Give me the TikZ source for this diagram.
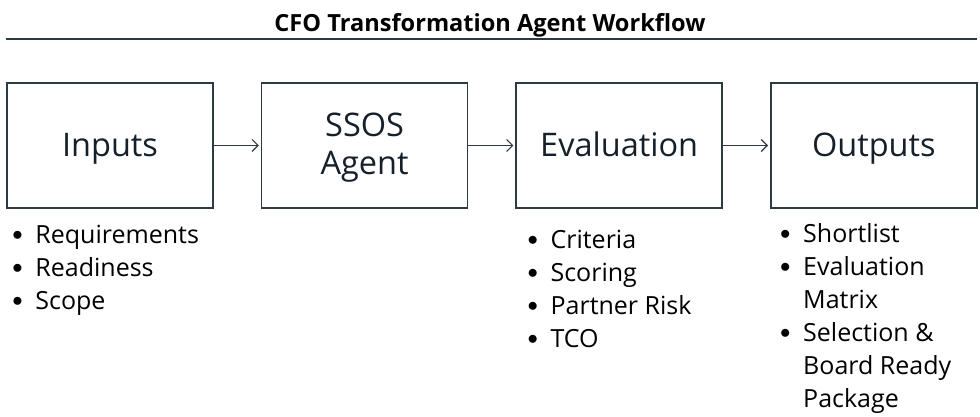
\documentclass[tikz,border=0pt]{standalone}
\usepackage{fontspec}
\setmainfont{Open Sans}
\usetikzlibrary{positioning,arrows.meta}
\definecolor{edgegray}{HTML}{2E3A42}
\definecolor{inkdark}{HTML}{16202A}
\newcommand{\bitem}[1]{\makebox[23pt][l]{\raisebox{2.5pt}{\fontsize{21}{33}\selectfont$\bullet$}}#1}
\newcommand{\bcont}[1]{\hspace*{23pt}#1}

\begin{document}
\begin{tikzpicture}[x=1pt,y=1pt,
    stage/.style={draw=edgegray,line width=1.6pt,minimum width=206pt,minimum height=125pt,
      inner sep=0pt,align=center,text=inkdark,font=\fontsize{32.5}{38}\selectfont,
      text height=23pt,text depth=0pt},
    flow/.style={draw=edgegray,line width=1.1pt,-{Straight Barb[length=6pt,width=12pt]},shorten >=2pt},
    bullets/.style={anchor=north west,inner sep=0pt,align=left,text=black,font=\fontsize{25}{33}\selectfont}]
    \useasboundingbox (0,0) rectangle (980,417);
    % title and rule
    \node[font=\bfseries\fontsize{23.6}{28}\selectfont,anchor=base] (title) at (490,385) {CFO Transformation Agent Workflow};
    \coordinate (ruleL) at (6,378);
    \coordinate (ruleR) at (977,378);
    \draw[edgegray,line width=1.8pt] (ruleL) -- (ruleR);
    % stages
    \node[stage] (inputs) at (110,271.5) {Inputs};
    \node[stage,right=47pt of inputs,text height=59pt] (agent) {SSOS\\Agent};
    \node[stage,right=47pt of agent] (evaluation) {Evaluation};
    \node[stage,right=47pt of evaluation] (outputs) {Outputs};
    \draw[flow] (inputs) -- (agent);
    \draw[flow] (agent) -- (evaluation);
    \draw[flow] (evaluation) -- (outputs);
    % bullet lists
    \node[bullets] (inlist) at ([shift={(6pt,-11pt)}]inputs.south west)
      {\strut\bitem{Requirements}\\\bitem{Readiness}\\\bitem{Scope}};
    \node[bullets] (evallist) at ([shift={(12pt,-16pt)}]evaluation.south west)
      {\strut\bitem{Criteria}\\\bitem{Scoring}\\\bitem{Partner Risk}\\\bitem{TCO}};
    \node[bullets] (outlist) at ([shift={(10pt,-10pt)}]outputs.south west)
      {\strut\bitem{Shortlist}\\\bitem{Evaluation}\\\bcont{Matrix}\\\bitem{Selection \&}\\\bcont{Board Ready}\\\bcont{Package}};
\end{tikzpicture}
\end{document}
